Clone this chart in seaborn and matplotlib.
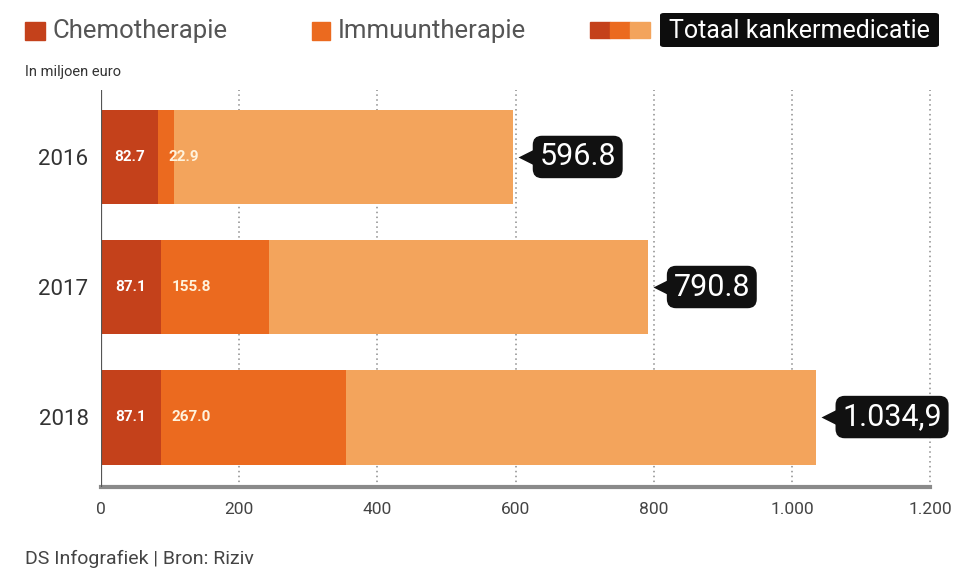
import matplotlib
matplotlib.use("Agg")
import matplotlib.pyplot as plt
import seaborn as sns
import pandas as pd
from matplotlib.patches import Rectangle, FancyBboxPatch
from matplotlib.transforms import offset_copy

# Data (million euro)
years = ["2016", "2017", "2018"]
chemo = [82.7, 87.1, 87.1]
immuno = [22.9, 155.8, 267.0]
total = [596.8, 790.8, 1034.9]
chemo_labels = ["82.7", "87.1", "87.1"]
immuno_labels = ["22.9", "155.8", "267.0"]
total_labels = ["596.8", "790.8", "1.034,9"]
x_ticks = [0, 200, 400, 600, 800, 1000, 1200]
x_tick_labels = ["0", "200", "400", "600", "800", "1.000", "1.200"]

C_CHEMO = "#c4411b"
C_IMMUNO = "#eb6a1f"
C_REST = "#f3a45c"
TXT = "#444444"

sns.set_theme(style="white")
plt.rcParams["font.family"] = ["Roboto", "DejaVu Sans"]

df = pd.DataFrame({"jaar": years, "chemo": chemo, "immuno": immuno, "totaal": total})
df["chemo_immuno"] = df["chemo"] + df["immuno"]

W, H = 964, 571
fig = plt.figure(figsize=(W / 100, H / 100), dpi=100)
fig.patch.set_facecolor("white")
ax = fig.add_axes([101 / W, 1 - 487 / H, 857 / W, 397 / H])


def fx(x):
    return x / W


def fy(y):
    return 1 - y / H


# Stacked horizontal bars: total behind, then chemo+immuno, then chemo
for col, colr in [("totaal", C_REST), ("chemo_immuno", C_IMMUNO), ("chemo", C_CHEMO)]:
    sns.barplot(data=df, x=col, y="jaar", orient="h", color=colr, width=0.73,
                saturation=1, edgecolor="none", linewidth=0, ax=ax, zorder=2)

ax.set_xlim(0, 1240)
ax.set_ylim(2.538, -0.515)

# Dotted gridlines and zero line
for xv in x_ticks[1:]:
    ax.axvline(xv, color="#8c8c8c", lw=1.1, ls=(0, (1, 2.2)), zorder=1)
ax.axvline(0, color="#555555", lw=1.6, zorder=3)

for s in ["top", "right", "left"]:
    ax.spines[s].set_visible(False)
ax.spines["bottom"].set_color("#8a8a8a")
ax.spines["bottom"].set_linewidth(3)
ax.spines["bottom"].set_bounds(0, 1200)

ax.set_xticks(x_ticks, x_tick_labels)
ax.tick_params(axis="x", colors="#555555", labelcolor=TXT, labelsize=12.5,
               length=5, width=1.2, direction="inout", pad=8)
ax.set_yticks([0, 1, 2], years)
ax.tick_params(axis="y", length=0, labelsize=16, labelcolor="#333333", pad=9)
ax.set_xlabel("")
ax.set_ylabel("")

# Segment labels
for i in range(len(years)):
    ax.text(chemo[i] / 2, i, chemo_labels[i], ha="center", va="center",
            color="white", fontsize=11, fontweight="bold", zorder=4)
    tr = offset_copy(ax.transData, fig=fig, x=10, y=0, units="dots")
    ax.text(chemo[i], i, immuno_labels[i], ha="left", va="center",
            color="#fff3dc", fontsize=11, fontweight="bold", zorder=4, transform=tr)
    # Callout with total
    tri = offset_copy(ax.transData, fig=fig, x=13, y=0, units="dots")
    ax.plot([total[i]], [i], marker="<", ms=12, color="#111111", mec="none",
            transform=tri, zorder=5, clip_on=False)
    tt = offset_copy(ax.transData, fig=fig, x=26, y=0, units="dots")
    ax.text(total[i], i, total_labels[i], ha="left", va="center", color="white",
            fontsize=22, zorder=6, transform=tt, clip_on=False,
            bbox=dict(boxstyle="round,pad=0.22,rounding_size=0.3",
                      fc="#111111", ec="none"))

# Legend
fig.add_artist(Rectangle((fx(25), fy(40)), 20 / W, 18 / H, color=C_CHEMO,
                         transform=fig.transFigure))
fig.text(fx(53), fy(31), "Chemotherapie", fontsize=18.5, color="#555555",
         va="center", ha="left")
fig.add_artist(Rectangle((fx(312), fy(40)), 18 / W, 18 / H, color=C_IMMUNO,
                         transform=fig.transFigure))
fig.text(fx(338), fy(31), "Immuuntherapie", fontsize=18.5, color="#555555",
         va="center", ha="left")
for k, colr in enumerate([C_CHEMO, C_IMMUNO, C_REST]):
    fig.add_artist(Rectangle((fx(590 + 20 * k), fy(38)), 20 / W, 16 / H,
                             color=colr, transform=fig.transFigure))
fig.add_artist(FancyBboxPatch((fx(660), fy(47)), 279 / W, 34 / H,
                              boxstyle="round,pad=0,rounding_size=0.004",
                              fc="#0d0d0d", ec="none", transform=fig.transFigure))
fig.text(fx(799), fy(31), "Totaal kankermedicatie", fontsize=18,
         color="white", va="center", ha="center")

fig.text(fx(25), fy(72), "In miljoen euro", fontsize=10.5, color="#333333",
         va="center", ha="left")
fig.text(fx(25), fy(559), "DS Infografiek | Bron: Riziv", fontsize=14,
         color="#444444", va="center", ha="left")

fig.savefig("out.png", dpi=100, facecolor="white")
